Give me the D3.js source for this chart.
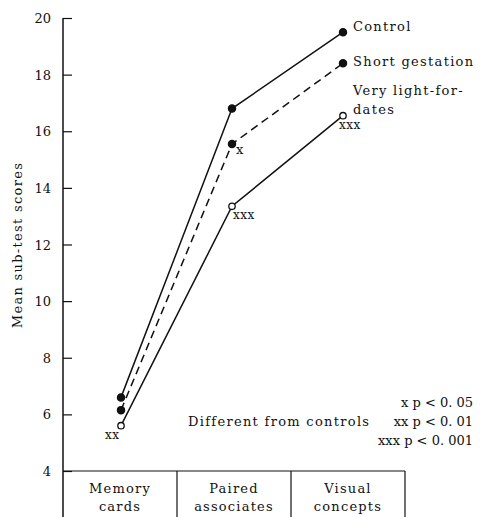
<!DOCTYPE html>
<html>
<head>
<meta charset="utf-8">
<script src="https://cdn.jsdelivr.net/npm/d3@7"></script>
<style>
  body { margin: 0; background: #fff; }
  svg text { font-family: "DejaVu Serif", "Liberation Serif", serif; fill: #111; }
</style>
</head>
<body>
<div id="chart"></div>
<script>
var tests = ["Memory cards", "Paired associates", "Visual concepts"];
var testLines = [["Memory", "cards"], ["Paired", "associates"], ["Visual", "concepts"]];
var control = [6.6, 16.8, 19.5];
var shortGestation = [6.15, 15.55, 18.4];
var veryLight = [5.6, 13.35, 16.55];
var yTicks = [4, 6, 8, 10, 12, 14, 16, 18, 20];
// significance marks for the two low-weight groups
var shortMarks = ["", "x", ""];
var lightMarks = ["xx", "xxx", "xxx"];

var svg = d3.select("#chart").append("svg")
	.attr("width", 480).attr("height", 517);

var plotLeft = 63, plotRight = 405, plotTop = 18, plotBottom = 471;

var band = d3.scaleBand().domain(tests).range([plotLeft, plotRight]).padding(0);
var x = d3.scalePoint().domain(tests).range([plotLeft + 58, plotRight - 62]);
var y = d3.scaleLinear().domain([4, 20]).range([plotBottom, plotTop]);
var cx = function(i){ return x(tests[i]); };

// y axis, ticks pointing inward
var yAxis = d3.axisRight(y).tickValues(yTicks).tickSize(9).tickFormat("");
var ya = svg.append("g").attr("transform", "translate(" + plotLeft + ",0)").call(yAxis);
ya.select(".domain").remove();
ya.selectAll("line").attr("stroke", "#111").attr("stroke-width", 1.2);
svg.append("line").attr("x1", plotLeft).attr("x2", plotLeft).attr("y1", plotTop).attr("y2", 517)
	.attr("stroke", "#111").attr("stroke-width", 1.5);

svg.selectAll(".ylab").data(yTicks).enter().append("text")
	.attr("x", 51).attr("y", function(d){ return y(d) + 5; })
	.attr("text-anchor", "end").attr("font-size", 13).text(function(d){ return d; });

svg.append("text")
	.attr("transform", "translate(22,245) rotate(-90)")
	.attr("text-anchor", "middle").attr("font-size", 13).attr("letter-spacing", 1.3)
	.text("Mean sub-test scores");

// category table below the plot
svg.append("line").attr("x1", plotLeft).attr("x2", plotRight).attr("y1", plotBottom).attr("y2", plotBottom)
	.attr("stroke", "#111").attr("stroke-width", 1.2);
svg.selectAll(".divider").data(tests.slice(1).concat(["end"])).enter().append("line")
	.attr("x1", function(d){ return d === "end" ? plotRight : band(d); })
	.attr("x2", function(d){ return d === "end" ? plotRight : band(d); })
	.attr("y1", plotBottom).attr("y2", 517)
	.attr("stroke", "#111").attr("stroke-width", 1.2);

testLines.forEach(function(lines, i){
	svg.append("text").attr("text-anchor", "middle").attr("font-size", 13)
		.attr("letter-spacing", 1.2)
		.selectAll("tspan").data(lines).enter().append("tspan")
		.attr("x", band(tests[i]) + band.bandwidth() / 2).attr("y", function(d, j){ return 493 + j * 18; })
		.text(function(d){ return d; });
});

var line = d3.line().x(function(d, i){ return cx(i); }).y(function(d){ return y(d); });

var series = [
	{name: "Control", values: control, dash: null, filled: true},
	{name: "Short gestation", values: shortGestation, dash: "8,5", filled: true},
	{name: "Very light", values: veryLight, dash: null, filled: false}
];

series.forEach(function(s){
	svg.append("path").datum(s.values).attr("d", line)
		.attr("fill", "none").attr("stroke", "#111").attr("stroke-width", 1.5)
		.attr("stroke-dasharray", s.dash);
	svg.selectAll(null).data(s.values).enter().append("circle")
		.attr("cx", function(d, i){ return cx(i); }).attr("cy", function(d){ return y(d); })
		.attr("r", s.filled ? 3.6 : 3.2)
		.attr("fill", s.filled ? "#111" : "#fff")
		.attr("stroke", "#111").attr("stroke-width", 1.3);
});

// series labels at the right end
var lx = cx(2) + 10;
var lab = function(t, yy){
	svg.append("text").attr("x", lx).attr("y", yy).attr("font-size", 13)
		.attr("letter-spacing", 1.3).text(t);
};
lab("Control", y(control[2]) - 1);
lab("Short gestation", y(shortGestation[2]) + 3);
lab("Very light-for-", y(veryLight[2]) - 21);
lab("dates", y(veryLight[2]) - 2);

// significance marks
shortMarks.forEach(function(m, i){
	if (!m) return;
	svg.append("text").attr("x", cx(i) + 4).attr("y", y(shortGestation[i]) + 10)
		.attr("font-size", 13).text(m);
});
lightMarks.forEach(function(m, i){
	if (!m) return;
	svg.append("text").attr("x", cx(i) + (i === 0 ? -16 : i === 1 ? 1 : -4))
		.attr("y", y(veryLight[i]) + 13)
		.attr("font-size", 12).attr("letter-spacing", 0.5).text(m);
});

// key for significance levels
var keyLines = ["x p < 0. 05", "xx p < 0. 01", "xxx p < 0. 001"];
svg.selectAll(".key").data(keyLines).enter().append("text")
	.attr("x", 473).attr("y", function(d, i){ return 407 + i * 19; })
	.attr("text-anchor", "end").attr("font-size", 13).text(function(d){ return d; });
svg.append("text").attr("x", 188).attr("y", 426).attr("font-size", 13)
	.attr("letter-spacing", 1.3).text("Different from controls");
</script>
</body>
</html>
